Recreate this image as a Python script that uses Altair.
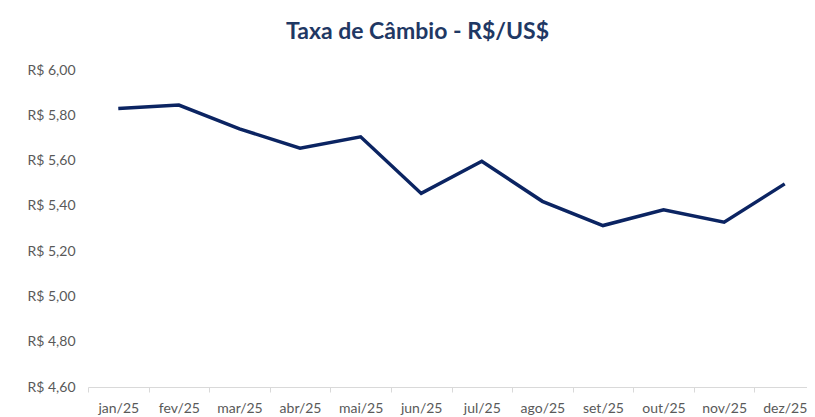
import altair as alt
import pandas as pd

months = ["jan/25", "fev/25", "mar/25", "abr/25", "mai/25", "jun/25",
          "jul/25", "ago/25", "set/25", "out/25", "nov/25", "dez/25"]
rates = [5.83, 5.845, 5.74, 5.655, 5.705, 5.455, 5.597, 5.42, 5.313, 5.383, 5.328, 5.497]
y_ticks = [4.6, 4.8, 5.0, 5.2, 5.4, 5.6, 5.8, 6.0]

df = pd.DataFrame({"mes": months, "taxa": rates})

FONT = "Lato"

chart = alt.Chart(df).mark_line(color="#0B2462", strokeWidth=3.5, strokeJoin="miter").encode(
    x=alt.X("mes:N", sort=months, title=None,
            scale=alt.Scale(type="band", paddingInner=0, paddingOuter=0, range=[0, 727]),
            axis=alt.Axis(tickBand="extent", labelAngle=0, domainColor="#D9D9D9",
                          tickColor="#D9D9D9", tickSize=5, labelPadding=9,
                          labelFont=FONT, labelFontSize=14, labelColor="#595959",
                          grid=False)),
    y=alt.Y("taxa:Q", title=None,
            scale=alt.Scale(domain=[4.6, 6.0], zero=False, nice=False),
            axis=alt.Axis(values=y_ticks, grid=False, domain=False, ticks=False,
                          labelPadding=13, labelFont=FONT, labelFontSize=14,
                          labelColor="#595959",
                          labelExpr="'R$ ' + replace(format(datum.value, '.2f'), '.', ',')")),
).properties(
    width=719,
    height=317,
    title=alt.TitleParams("Taxa de Câmbio - R$/US$", font=FONT, fontSize=23,
                          fontWeight="bold", color="#1F3864", anchor="middle",
                          dx=-30, offset=19),
    autosize=alt.AutoSizeParams(type="none"),
    padding={"left": 80, "top": 62, "right": 0, "bottom": 29},
).configure_view(stroke=None)

chart.save("out.html", embed_options={"renderer": "svg", "actions": False})
